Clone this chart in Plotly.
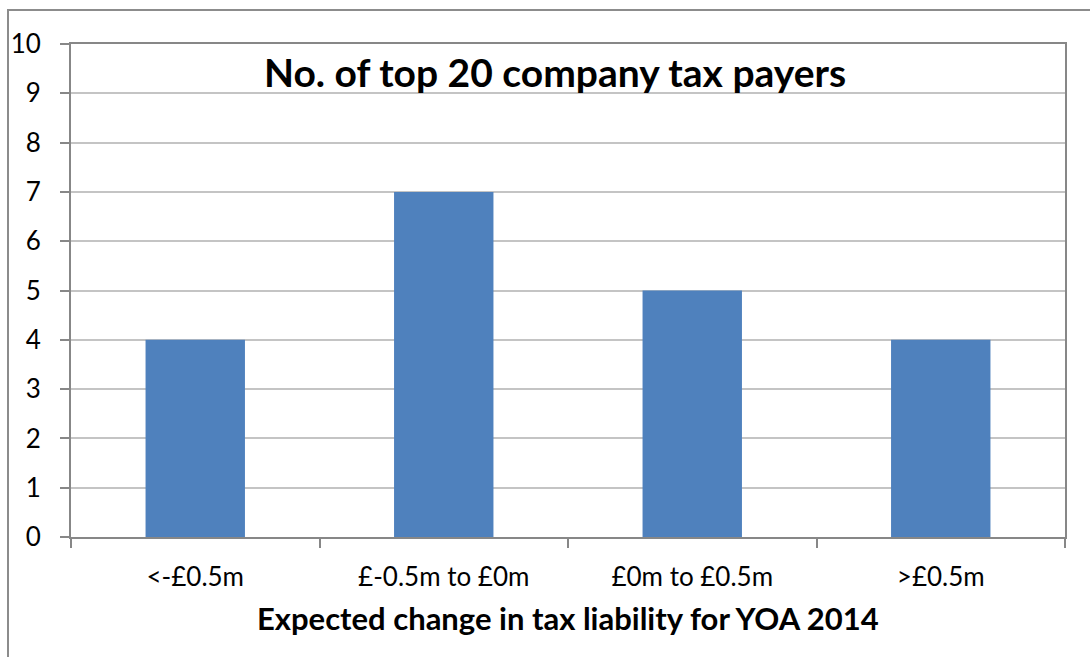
import plotly.graph_objects as go

categories = ["<-£0.5m", "£-0.5m to £0m", "£0m to £0.5m", ">£0.5m"]
counts = [4, 7, 5, 4]
y_ticks = list(range(0, 11))

W, H = 1090, 657
L, R, T, B = 71, 25, 44, 120
plot_w = W - L - R
plot_h = H - T - B

font_family = "Lato, Carlito, Calibri, sans-serif"

fig = go.Figure()
fig.add_trace(go.Bar(
    x=categories,
    y=counts,
    marker=dict(color="#4F81BD", line=dict(width=0)),
    width=0.4,
    hoverinfo="x+y",
))

fig.update_layout(
    width=W,
    height=H,
    margin=dict(l=L, r=R, t=T, b=B),
    paper_bgcolor="white",
    plot_bgcolor="white",
    showlegend=False,
    font=dict(family=font_family, size=26, color="#000000"),
    bargap=0.6,
)

fig.update_xaxes(
    type="category",
    tickson="boundaries",
    ticks="outside",
    ticklen=9,
    tickwidth=2,
    tickcolor="#878787",
    showline=True,
    linecolor="#878787",
    linewidth=2,
    mirror=True,
    showgrid=False,
    tickfont=dict(size=26),
    ticklabelstandoff=16,
)

fig.update_yaxes(
    range=[0, 10],
    tickvals=y_ticks,
    ticks="outside",
    ticklen=9,
    tickwidth=2,
    tickcolor="#878787",
    showline=True,
    linecolor="#878787",
    linewidth=2,
    mirror=True,
    showgrid=True,
    gridcolor="#C4C4C4",
    gridwidth=2,
    zeroline=False,
    tickfont=dict(size=26),
    ticklabelstandoff=14,
)

# chart title placed inside the plotting area
fig.add_annotation(
    text="<b>No. of top 20 company tax payers</b>",
    xref="paper", yref="paper",
    x=(555 - L) / plot_w, y=1 - (72 - T) / plot_h,
    showarrow=False,
    font=dict(size=39, family=font_family),
    xanchor="center", yanchor="middle",
)

# x-axis title
fig.add_annotation(
    text="<b>Expected change in tax liability for YOA 2014</b>",
    xref="paper", yref="paper",
    x=0.5, y=1 - (618 - T) / plot_h,
    showarrow=False,
    font=dict(size=31, family=font_family),
    xanchor="center", yanchor="middle",
)

# outer chart frame
fig.add_shape(
    type="rect",
    xref="paper", yref="paper",
    x0=(8 - L) / plot_w, x1=(W + 20 - L) / plot_w,
    y0=1 - (H + 20 - T) / plot_h, y1=1 + (T - 10) / plot_h,
    line=dict(color="#8C8C8C", width=2),
    fillcolor="rgba(0,0,0,0)",
    layer="below",
)

fig.write_html("out.html")
